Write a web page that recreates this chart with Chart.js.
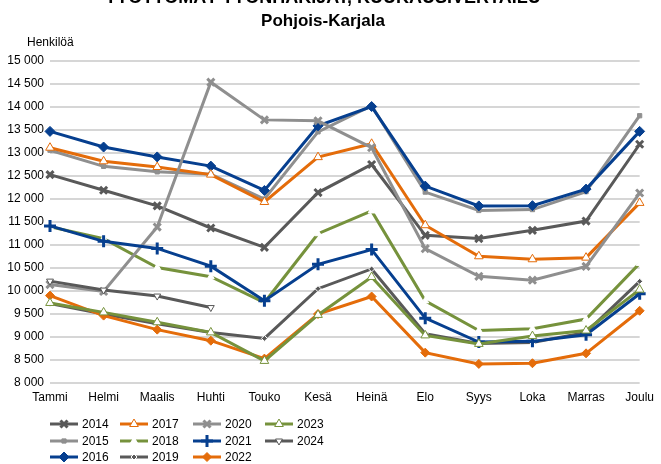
<!DOCTYPE html>
<html><head><meta charset="utf-8">
<script src="https://cdn.jsdelivr.net/npm/chart.js@4/dist/chart.umd.min.js"></script>
<style>
html,body{margin:0;padding:0;background:#fff;}
#wrap{width:661px;height:464px;position:relative;overflow:hidden;font-family:"Liberation Sans",Arial,sans-serif;}
#c{position:absolute;left:0;top:0;}
.t{position:absolute;left:0;width:646px;text-align:center;font-weight:bold;color:#000;white-space:nowrap;}
#title{top:-13px;font-size:18px;}
#sub{top:11px;font-size:17px;}
#ytitle{position:absolute;left:27px;top:35px;font-size:12px;color:#000;}
</style>
</head><body><div id="wrap">
<canvas id="c" width="661" height="464"></canvas>
<div class="t" id="title">TYÖTTÖMÄT TYÖNHAKIJAT, KUUKAUSIVERTAILU</div>
<div class="t" id="sub">Pohjois-Karjala</div>
<div id="ytitle">Henkilöä</div>
</div>
<script>
const months = ['Tammi','Helmi','Maalis','Huhti','Touko','Kesä','Heinä','Elo','Syys','Loka','Marras','Joulu'];
const years = ['2014','2015','2016','2017','2018','2019','2020','2021','2022','2023','2024'];
const y2014 = [12530,12190,11850,11370,10950,12140,12750,11210,11140,11320,11520,13190];
const y2015 = [13060,12710,12590,12540,12000,13460,14030,12150,11750,11770,12160,13810];
const y2016 = [13470,13130,12915,12715,12185,13590,14010,12280,11850,11855,12215,13470];
const y2017 = [13115,12820,12695,12530,11935,12910,13200,11430,10755,10690,10725,11915];
const y2018 = [11395,11140,10510,10310,9750,11245,11740,9785,9140,9180,9390,10600];
const y2019 = [9730,9500,9290,9100,8970,10050,10480,9070,8860,8880,9100,10210];
const y2020 = [10140,9990,11390,14540,13720,13700,13115,10920,10320,10235,10535,12130];
const y2021 = [11415,11080,10925,10540,9790,10580,10900,9410,8890,8905,9050,9940];
const y2022 = [9900,9465,9160,8920,8530,9500,9880,8660,8415,8430,8645,9570];
const y2023 = [9740,9535,9320,9100,8480,9480,10305,9035,8850,9020,9140,10030];
const y2024 = [10215,10020,9890,9640,null,null,null,null,null,null,null,null];
const yMin = 8000, yMax = 15000, yStep = 500;

const GRAY_D = '#595959', GRAY_L = '#8f8f8f', BLUE = '#063f8f', ORANGE = '#e46c0a', GREEN = '#76923c';

const styles = [
  {c:GRAY_D, ps:'crossRot', r:5, bw:3, bg:GRAY_D, bc:GRAY_D},
  {c:GRAY_L, ps:'rect', r:3, bw:1, bg:GRAY_L, bc:GRAY_L},
  {c:BLUE, ps:'rectRot', r:5, bw:1, bg:BLUE, bc:BLUE},
  {c:ORANGE, ps:'triangle', r:5, bw:1, bg:'#fff', bc:ORANGE},
  {c:GREEN, ps:'triangle', r:4, bw:1, bg:'#fff', bc:'#fff'},
  {c:GRAY_D, ps:'rectRot', r:3, bw:1, bg:GRAY_D, bc:'#fff'},
  {c:GRAY_L, ps:'crossRot', r:5, bw:3, bg:GRAY_L, bc:GRAY_L},
  {c:BLUE, ps:'cross', r:6, bw:3, bg:BLUE, bc:BLUE},
  {c:ORANGE, ps:'rectRot', r:4.5, bw:1, bg:ORANGE, bc:ORANGE},
  {c:GREEN, ps:'triangle', r:5, bw:1, bg:'#fff', bc:GREEN},
  {c:GRAY_D, ps:'triangle', r:4, bw:1, bg:'#fff', bc:GRAY_D, rot:180}
];
const series = [y2014,y2015,y2016,y2017,y2018,y2019,y2020,y2021,y2022,y2023,y2024];

const datasets = series.map((d,i)=>{
  const s = styles[i];
  return {
    label: years[i], data: d,
    borderColor: s.c, backgroundColor: s.c, borderWidth: 3,
    pointStyle: s.ps, pointRadius: s.r, pointBorderWidth: s.bw,
    pointBackgroundColor: s.bg, pointBorderColor: s.bc, pointRotation: s.rot||0,
    pointHoverRadius: s.r, tension: 0, spanGaps: false,
    order: series.length - i
  };
});

function fmt(v){ return String(v).replace(/\B(?=(\d{3})+(?!\d))/g,' '); }

const legendPlugin = {
  id:'customLegend',
  afterDraw(chart){
    const ctx = chart.ctx;
    const rowsY = [424, 441, 457];
    const colX = [50, 120, 193, 265];
    ctx.save();
    ctx.font = '12px "Liberation Sans", Arial, sans-serif';
    ctx.textBaseline = 'middle';
    ctx.textAlign = 'left';
    chart.data.datasets.forEach((ds,i)=>{
      const col = Math.floor(i/3), row = i%3;
      const x0 = colX[col], y = rowsY[row], len = 28;
      const s = styles[i];
      ctx.strokeStyle = s.c; ctx.lineWidth = 3;
      ctx.beginPath(); ctx.moveTo(x0,y); ctx.lineTo(x0+len,y); ctx.stroke();
      ctx.fillStyle = s.bg; ctx.strokeStyle = s.bc; ctx.lineWidth = s.bw;
      Chart.helpers.drawPoint(ctx, {pointStyle:s.ps, radius:s.r, borderWidth:s.bw, rotation:s.rot||0}, x0+len/2, y);
      ctx.fillStyle = '#000';
      ctx.fillText(ds.label, x0+len+4, y+1);
    });
    ctx.restore();
  }
};

new Chart(document.getElementById('c'), {
  type:'line',
  data:{labels:months, datasets},
  options:{
    responsive:false, animation:false,
    layout:{padding:{left:0,right:15,top:61,bottom:59}},
    plugins:{legend:{display:false}, title:{display:false}, tooltip:{enabled:false}},
    scales:{
      x:{
        offset:false,
        grid:{display:false, drawTicks:false},
        border:{display:false},
        ticks:{color:'#000', font:{size:12, family:'"Liberation Sans", Arial, sans-serif'}, padding:7, maxRotation:0, autoSkip:false},
        afterFit(s){ s.height = 22; }
      },
      y:{
        min:yMin, max:yMax,
        grid:{color:'#d6d6d6', lineWidth:2, drawTicks:false},
        border:{display:false},
        ticks:{stepSize:yStep, color:'#000', font:{size:12, family:'"Liberation Sans", Arial, sans-serif'}, padding:6, callback:(v)=>fmt(v)},
        afterFit(s){ s.width = 50; }
      }
    }
  },
  plugins:[legendPlugin]
});
</script>
</body></html>
